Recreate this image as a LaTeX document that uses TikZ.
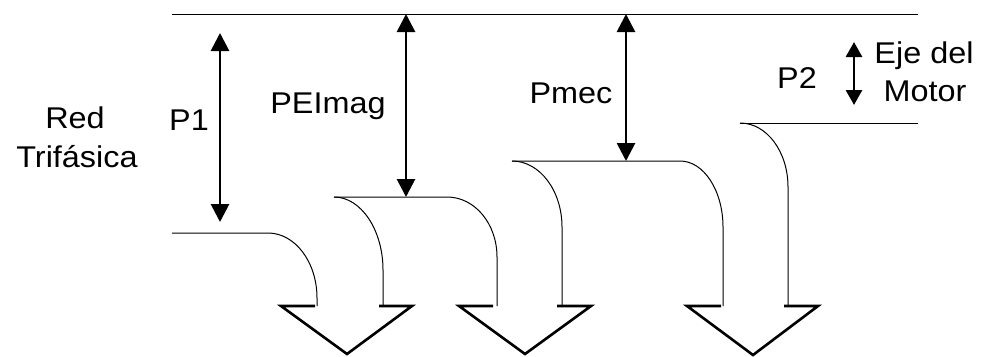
\documentclass[tikz,border=0pt]{standalone}
\usepackage{fontspec}
\setmainfont{Liberation Sans}[FakeStretch=1.08]
\usetikzlibrary{arrows.meta}

\tikzset{
  texto/.style={anchor=base, inner sep=0pt, font=\fontsize{30}{36}\selectfont},
  flecha/.style={line width=2.8pt, {Triangle[width=18pt,length=18pt]}-{Triangle[width=18pt,length=18pt]}},
  flechita/.style={line width=2.8pt, {Triangle[width=16pt,length=15pt]}-{Triangle[width=16pt,length=15pt]}},
  nivel/.style={line width=1pt},
  punta/.style={line width=2.6pt, line join=miter}
}

\begin{document}
\begin{tikzpicture}[x=1pt, y=-1pt]
\useasboundingbox (0,0) rectangle (981,356);
% textos
\node[texto] (red) at (75,128) {Red};
\node[texto] (trifasica) at (77,167) {Trifásica};
\node[texto] (p1) at (189,130) {P1};
\node[texto] (pelmag) at (328,113) {PEImag};
\node[texto] (pmec) at (571,103) {Pmec};
\node[texto] (p2) at (797,88) {P2};
\node[texto] (eje) at (924,63) {Eje del};
\node[texto] (motor) at (925,101) {Motor};
% puntos de las flechas
\coordinate (p1a) at (220,33);   \coordinate (p1b) at (220,222);
\coordinate (pea) at (406,14);   \coordinate (peb) at (406,197);
\coordinate (pma) at (626,14);   \coordinate (pmb) at (626,161);
\coordinate (p2a) at (854,42);   \coordinate (p2b) at (854,105);
\draw[flecha] (p1a) -- (p1b);
\draw[flecha] (pea) -- (peb);
\draw[flecha] (pma) -- (pmb);
\draw[flechita] (p2a) -- (p2b);
% linea de arriba
\draw[nivel] (172,14) -- (918,14);
% perdidas 1
\draw[nivel] (172,233) -- (268,233) .. controls (295,233) and (317,262) .. (317,298) -- (317,306);
\draw[nivel] (334,197) .. controls (361,197) and (383,230) .. (383,270) -- (383,306);
\draw[punta] (315,306) -- (281,306) -- (347,354) -- (412,306) -- (379,306);
% perdidas 2
\draw[nivel] (334,197) -- (447,197) .. controls (475,197) and (497,224) .. (497,257) -- (497,306);
\draw[nivel] (512,161) .. controls (540,161) and (562,191) .. (562,227) -- (562,306);
\draw[punta] (493,306) -- (459,306) -- (525,354) -- (591,306) -- (557,306);
% perdidas 3
\draw[nivel] (512,161) -- (680,161) .. controls (704,161) and (723,191) .. (723,227) -- (723,306);
\draw[nivel] (740,123) .. controls (767,123) and (788,152) .. (788,187) -- (788,306);
\draw[punta] (721,306) -- (687,306) -- (753,355) -- (818,306) -- (784,306);
% eje del motor
\draw[nivel] (740,123) -- (918,123);
\end{tikzpicture}
\end{document}
